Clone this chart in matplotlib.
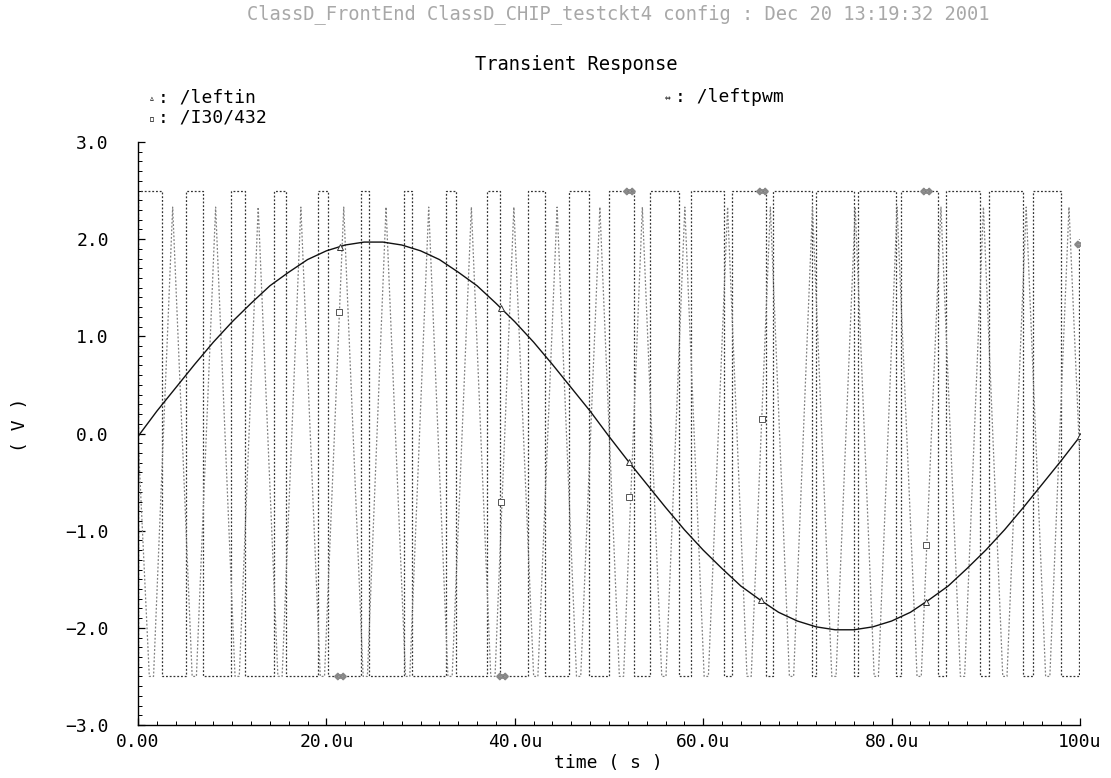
import numpy as np
import matplotlib
matplotlib.use("Agg")
from matplotlib import pyplot as plt
from matplotlib.ticker import MultipleLocator

plt.rcParams["font.family"] = ["DejaVu Sans Mono", "DejaVu Sans"]

# /leftin - sine input, sampled every 2 us
sine_t = np.arange(0, 101, 2)
sine_v = [-0.03, 0.23, 0.47, 0.71, 0.94, 1.15, 1.34, 1.52, 1.66, 1.79, 1.88,
          1.94, 1.97, 1.97, 1.94, 1.88, 1.79, 1.66, 1.52, 1.34, 1.15, 0.94,
          0.71, 0.47, 0.23, -0.03, -0.28, -0.52, -0.76, -0.99, -1.20, -1.39,
          -1.57, -1.71, -1.84, -1.93, -1.99, -2.02, -2.02, -1.99, -1.93, -1.84,
          -1.71, -1.57, -1.39, -1.20, -0.99, -0.76, -0.52, -0.28, -0.03]

# /I30/432 - triangle carrier (vertex times in us)
tri_peak_t = [3.68, 8.24, 12.76, 17.29, 21.84, 26.33, 30.86, 35.39, 39.90, 44.49,
              49.03, 53.54, 58.05, 62.59, 67.13, 71.60, 76.14, 80.58, 85.24,
              89.75, 94.29, 98.83]
tri_valley_start = [1.20, 5.75, 10.30, 14.85, 19.35, 23.90, 28.40, 32.90, 37.45,
                    42.00, 46.55, 51.10, 55.60, 60.10, 64.65, 69.15, 73.65, 78.15,
                    82.70, 87.30, 91.80, 96.35]
tri_valley_end = [1.65, 6.20, 10.75, 15.30, 19.80, 24.35, 28.85, 33.35, 37.90,
                  42.45, 47.00, 51.55, 56.05, 60.55, 65.10, 69.60, 74.10, 78.60,
                  83.15, 87.75, 92.25, 96.80]
tri_high = 2.33
tri_low = -2.50
tri_start_v = -0.03
tri_end_v = -0.30

# /leftpwm - edges in us
pwm_rise = [0.0, 5.06, 9.83, 14.45, 19.14, 23.65, 28.24, 32.74, 37.08, 41.39,
            45.71, 50.05, 54.37, 58.72, 63.06, 67.44, 71.97, 76.45, 81.03,
            85.77, 90.35, 95.05]
pwm_fall = [2.58, 6.92, 11.35, 15.66, 20.15, 24.53, 29.13, 33.72, 38.42, 43.16,
            47.86, 52.70, 57.48, 62.17, 66.70, 71.51, 76.03, 80.50, 84.93,
            89.36, 93.94, 98.00]
pwm_last_rise = 99.85
pwm_end_v = 2.0
pwm_high = 2.50
pwm_low = -2.50

# curve markers
leftin_mark_t = [21.4, 38.5, 52.1, 66.1, 83.6, 100.0]
tri_mark_t = [21.3, 38.5, 52.1, 66.2, 83.6]
tri_mark_v = [1.25, -0.70, -0.65, 0.15, -1.15]
pwm_mark_t = [21.4, 38.6, 52.1, 66.2, 83.6, 100.0]
pwm_mark_v = [-2.50, -2.50, 2.50, 2.50, 2.50, 1.95]

x_ticks = [0, 20, 40, 60, 80, 100]
x_labels = ["0.00", "20.0u", "40.0u", "60.0u", "80.0u", "100u"]
y_ticks = [3, 2, 1, 0, -1, -2, -3]
y_labels = ["3.0", "2.0", "1.0", "0.0", "\u22121.0", "\u22122.0", "\u22123.0"]

W, H = 1111, 778


def fx(px):
    return px / W


def fy(py):
    return 1 - py / H


# build polylines
tri_t = [0.0]
tri_v = [tri_start_v]
for a, b, p in zip(tri_valley_start, tri_valley_end, tri_peak_t):
    tri_t += [a, b, p]
    tri_v += [tri_low, tri_low, tri_high]
tri_t.append(100.0)
tri_v.append(tri_end_v)

pwm_t = []
pwm_v = []
for r, f in zip(pwm_rise, pwm_fall):
    pwm_t += [r, r, f, f]
    pwm_v += [pwm_low, pwm_high, pwm_high, pwm_low]
pwm_t += [pwm_last_rise, pwm_last_rise]
pwm_v += [pwm_low, pwm_end_v]

fig = plt.figure(figsize=(W / 100, H / 100), dpi=100)
ax = fig.add_axes([fx(138), fy(725), fx(1080) - fx(138), fy(142) - fy(725)])

ax.plot(pwm_t, pwm_v, color="#333333", lw=0.9, ls=(0, (1.5, 1.5)))
ax.plot(tri_t, tri_v, color="#808080", lw=0.9, ls=(0, (1.5, 1.5)))
ax.plot(sine_t, sine_v, color="#111111", lw=1.0)

ax.plot(leftin_mark_t, np.interp(leftin_mark_t, sine_t, sine_v), ls="none",
        marker="^", ms=5, mfc="white", mec="#333333", mew=0.7)
ax.plot(tri_mark_t, tri_mark_v, ls="none", marker="s", ms=4,
        mfc="white", mec="#555555", mew=0.7)
ax.plot(pwm_mark_t, pwm_mark_v, ls="none", marker=r"$\Leftrightarrow$",
        ms=8, color="#888888")

ax.set_xlim(0, 100)
ax.set_ylim(-3, 3)
for s in ["top", "right"]:
    ax.spines[s].set_visible(False)
ax.spines["left"].set_linewidth(1.0)
ax.spines["bottom"].set_linewidth(1.0)

ax.set_xticks(x_ticks, x_labels)
ax.set_yticks(y_ticks, y_labels)
ax.xaxis.set_minor_locator(MultipleLocator(2))
ax.yaxis.set_minor_locator(MultipleLocator(0.1))
ax.tick_params(which="both", direction="in", top=False, right=False)
ax.tick_params(which="major", length=5, width=0.9)
ax.tick_params(which="minor", length=3, width=0.7)
ax.tick_params(axis="y", which="major", pad=21, labelsize=13)
ax.tick_params(axis="x", which="major", pad=6, labelsize=13)

fig.text(fx(618), fy(14), "ClassD_FrontEnd ClassD_CHIP_testckt4 config : Dec 20 13:19:32 2001",
         ha="center", va="center", color="#a8a8a8", fontsize=13.5)
fig.text(fx(576), fy(64), "Transient Response", ha="center", va="center", fontsize=13.5)

fig.text(fx(152), fy(98), "\u25b5", ha="center", va="center", fontsize=7)
fig.text(fx(158), fy(97), ": /leftin", ha="left", va="center", fontsize=13)
fig.text(fx(152), fy(119), "\u25ab", ha="center", va="center", fontsize=7)
fig.text(fx(158), fy(118), ": /I30/432", ha="left", va="center", fontsize=13)
fig.text(fx(668), fy(98), "\u21d4", ha="center", va="center", fontsize=7)
fig.text(fx(675), fy(97), ": /leftpwm", ha="left", va="center", fontsize=13)

fig.text(fx(20), fy(425), "( V )", rotation=90, ha="center", va="center", fontsize=13)
fig.text(fx(608), fy(763), "time ( s )", ha="center", va="center", fontsize=13)

plt.savefig("out.png", dpi=100)
